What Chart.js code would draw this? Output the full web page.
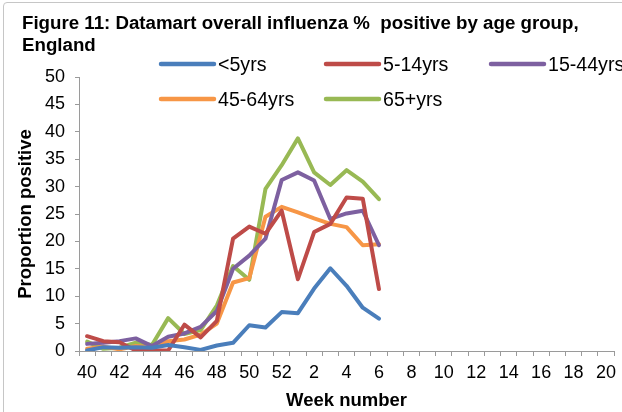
<!DOCTYPE html>
<html>
<head>
<meta charset="utf-8">
<script src="https://cdn.jsdelivr.net/npm/chart.js@4.4.1/dist/chart.umd.min.js"></script>
<style>
  html, body { margin: 0; padding: 0; background: #fff; overflow: hidden; }
  #wrap { position: relative; width: 622px; height: 412px; }
  #frame { position: absolute; left: 3px; top: 2px; width: 640px; height: 430px;
           border: 1px solid #c6c6c6; border-radius: 4px; box-sizing: border-box; }
  canvas { position: absolute; left: 0; top: 0; }
</style>
</head>
<body>
<div id="wrap">
  <div id="frame"></div>
  <canvas id="fluChart" width="622" height="412"></canvas>
</div>
<script>
// week numbers on the x axis (season 40 -> 20)
const weeks = ['40','41','42','43','44','45','46','47','48','49','50','51','52',
  '1','2','3','4','5','6','7','8','9','10','11','12','13','14','15','16','17','18','19','20'];

// % positive by age group, weeks 40 to 6
const under5 = [0.1, 0.7, 0.6, 0.7, 0.6, 1.1, 0.7, 0.2, 1.0, 1.5, 4.7, 4.3, 7.1, 6.9, 11.4, 15.1, 11.9, 7.9, 5.9];
const age5to14 = [2.7, 1.8, 1.6, 0.1, 0.1, 0.1, 4.8, 2.5, 5.5, 20.5, 22.7, 21.4, 25.6, 13.1, 21.7, 23.2, 28.0, 27.8, 11.3];
const age15to44 = [1.3, 1.5, 1.8, 2.3, 0.9, 2.6, 3.2, 4.4, 7.3, 15.0, 17.4, 20.5, 31.2, 32.6, 31.1, 24.1, 25.1, 25.6, 19.3];
const age45to64 = [0.4, 0.8, 0.3, 0.9, 0.7, 1.8, 2.1, 3.0, 5.0, 12.5, 13.3, 24.5, 26.3, 25.3, 24.2, 23.2, 22.6, 19.3, 19.5];
const age65plus = [1.7, 0.4, 0.6, 1.5, 1.1, 6.0, 3.1, 3.8, 8.3, 15.5, 13.0, 29.6, 33.9, 38.8, 32.6, 30.3, 33.0, 30.9, 27.7];

const seriesNames = ['<5yrs', '5-14yrs', '15-44yrs', '45-64yrs', '65+yrs'];
const seriesColors = ['#4a7ebb', '#be4b48', '#7d60a0', '#f79646', '#98b954'];

const FONT = '"Liberation Sans", Arial, sans-serif';

function makeSet(i, data){
  return {
    label: seriesNames[i],
    data: data,
    borderColor: seriesColors[i],
    backgroundColor: seriesColors[i],
    borderWidth: 4,
    pointRadius: 0,
    tension: 0,
    fill: false,
    borderJoinStyle: 'round',
    borderCapStyle: 'round'
  };
}

/* title + legend drawn by hand, Excel style */
const headerPlugin = {
  id: 'header',
  afterDraw(chart){
    const c = chart.ctx;
    c.save();
    c.fillStyle = '#000';
    c.textBaseline = 'alphabetic';
    c.textAlign = 'left';
    c.font = 'bold 18.7px ' + FONT;
    c.fillText('Figure 11: Datamart overall influenza %  positive by age group,', 22, 29);
    c.fillText('England', 22, 51);

    const pos = [[161, 64], [326, 64], [491, 64], [161, 99], [326, 99]];
    c.font = '19.6px ' + FONT;
    chart.data.datasets.forEach(function(ds, i){
      const x = pos[i][0], y = pos[i][1];
      c.strokeStyle = ds.borderColor;
      c.lineWidth = 4.5;
      c.lineCap = 'round';
      c.beginPath();
      c.moveTo(x, y);
      c.lineTo(x + 53, y);
      c.stroke();
      c.fillStyle = '#000';
      c.fillText(ds.label, x + 57, y + 7);
    });
    c.restore();
  }
};

window.onload = function(){
  const ctx = document.getElementById('fluChart').getContext('2d');
  new Chart(ctx, {
    type: 'line',
    data: {
      labels: weeks,
      datasets: [makeSet(0, under5), makeSet(1, age5to14), makeSet(2, age15to44),
                 makeSet(3, age45to64), makeSet(4, age65plus)]
    },
    options: {
      responsive: false,
      animation: false,
      layout: { padding: { top: 77, left: 15, right: 0, bottom: 0 } },
      plugins: {
        legend: { display: false },
        title: { display: false },
        tooltip: { enabled: false }
      },
      scales: {
        x: {
          offset: true,
          afterFit: function(s){ s.height = 61; },
          grid: { offset: true, drawOnChartArea: false, color: '#9a9a9a', tickLength: 5, lineWidth: 1 },
          border: { color: '#9a9a9a', width: 1 },
          ticks: {
            autoSkip: false, maxRotation: 0, color: '#000', padding: 6,
            font: { family: FONT, size: 18 },
            callback: function(v, i){ return i % 2 === 0 ? weeks[i] : ''; }
          },
          title: { display: true, text: 'Week number', color: '#000',
                   font: { family: FONT, size: 18.5, weight: 'bold' }, padding: { top: 0, bottom: 0 } }
        },
        y: {
          min: 0, max: 50,
          afterFit: function(s){ s.width = 64; },
          grid: { drawOnChartArea: false, color: '#9a9a9a', tickLength: 4 },
          border: { color: '#9a9a9a', width: 1 },
          ticks: { stepSize: 5, color: '#000', padding: 10, font: { family: FONT, size: 18 } },
          title: { display: true, text: 'Proportion positive', color: '#000',
                   font: { family: FONT, size: 18.5, weight: 'bold' }, padding: { top: 0, bottom: 0 } }
        }
      }
    },
    plugins: [headerPlugin]
  });
};
</script>
</body>
</html>
